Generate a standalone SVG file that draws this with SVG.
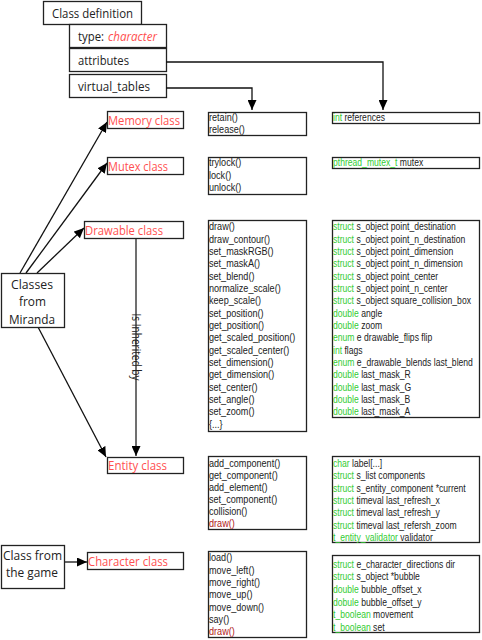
<svg xmlns="http://www.w3.org/2000/svg" width="482" height="640" viewBox="0 0 482 640">
<style>
.box{fill:#fff;stroke:#222;stroke-width:1.3}
.lbl{font-family:"Open Sans","Liberation Sans",sans-serif;font-size:13px;fill:#222}
.red{fill:#ff4f4f}
.sm{font-family:"Liberation Sans",sans-serif;font-size:10px;fill:#222}
.kw{fill:#33cc33}
.dr{fill:#b02020}
.con{fill:none;stroke:#111;stroke-width:1.3}
.inh{fill:none;stroke:#707070;stroke-width:2}
</style>
<defs>
<marker id="ah" markerUnits="userSpaceOnUse" markerWidth="11" markerHeight="9" refX="10" refY="4.5" orient="auto" viewBox="0 0 11 9">
<path d="M0,0 L10,4.5 L0,9 z" fill="#000"/>
</marker>
</defs>
<rect width="482" height="640" fill="#fff"/>

<g id="class-definition">
<rect class="box" x="43.5" y="1.5" width="98" height="23"/>
<text class="lbl" x="52" y="17.5" textLength="81" lengthAdjust="spacingAndGlyphs">Class definition</text>
</g>
<g id="type">
<rect class="box" x="69.5" y="24.5" width="97" height="23"/>
<text class="lbl" x="78" y="41" textLength="26" lengthAdjust="spacingAndGlyphs">type:</text>
<text class="lbl red" x="108" y="41" font-style="italic" textLength="49" lengthAdjust="spacingAndGlyphs">character</text>
</g>
<g id="attributes">
<rect class="box" x="69.5" y="48.5" width="97" height="23"/>
<text class="lbl" x="78" y="64.5" textLength="51" lengthAdjust="spacingAndGlyphs">attributes</text>
</g>
<g id="virtual-tables">
<rect class="box" x="69.5" y="74.5" width="97" height="23"/>
<text class="lbl" x="78" y="90.5" textLength="72" lengthAdjust="spacingAndGlyphs">virtual_tables</text>
</g>

<g id="connectors">
<path class="con" d="M166,62 H383 V110" marker-end="url(#ah)"/>
<path class="con" d="M166,88 H252 V110" marker-end="url(#ah)"/>
<path class="con" d="M20,273 L107,122" marker-end="url(#ah)"/>
<path class="con" d="M26,273 L107,163" marker-end="url(#ah)"/>
<path class="con" d="M37,273 L84,228" marker-end="url(#ah)"/>
<path class="con" d="M38,327 L106,457" marker-end="url(#ah)"/>
<path class="inh" d="M136,238 V456" marker-end="url(#ah)"/>
<path class="con" d="M64,562 H87" marker-end="url(#ah)"/>
<text class="lbl" font-size="12" transform="translate(136,347) rotate(90)" x="-33.5" y="4" textLength="67" lengthAdjust="spacingAndGlyphs">Is Inherited by</text>
</g>

<g id="memory-class">
<rect class="box" x="107.5" y="111.5" width="76" height="17"/>
<text class="lbl red" x="108" y="124.5" textLength="72" lengthAdjust="spacingAndGlyphs">Memory class</text>
</g>
<g id="memory-methods">
<rect class="box" x="208.5" y="112.5" width="98" height="23"/>
<g transform="matrix(0.91,0,0,1,18.81,0)">
<text class="sm" x="209" y="121">retain()</text>
<text class="sm" x="209" y="133">release()</text>
</g>
</g>
<g id="memory-attrs">
<rect class="box" x="332.5" y="112.5" width="147" height="11"/>
<g transform="matrix(0.86,0,0,1,46.62,0)">
<text class="sm" x="333" y="121"><tspan class="kw">int</tspan> references</text>
</g>
</g>

<g id="mutex-class">
<rect class="box" x="107.5" y="157.5" width="76" height="17"/>
<text class="lbl red" x="108" y="170.5" textLength="60" lengthAdjust="spacingAndGlyphs">Mutex class</text>
</g>
<g id="mutex-methods">
<rect class="box" x="208.5" y="157.5" width="98" height="37"/>
<g transform="matrix(0.91,0,0,1,18.81,0)">
<text class="sm" x="209" y="166.5">trylock()</text>
<text class="sm" x="209" y="179">lock()</text>
<text class="sm" x="209" y="191.5">unlock()</text>
</g>
</g>
<g id="mutex-attrs">
<rect class="box" x="332.5" y="157.5" width="147" height="11"/>
<g transform="matrix(0.86,0,0,1,46.62,0)">
<text class="sm" x="333" y="166.5"><tspan class="kw">pthread_mutex_t</tspan> mutex</text>
</g>
</g>

<g id="drawable-class">
<rect class="box" x="84.5" y="221.5" width="99" height="17"/>
<text class="lbl red" x="85" y="234.5" textLength="78" lengthAdjust="spacingAndGlyphs">Drawable class</text>
</g>
<g id="drawable-methods">
<rect class="box" x="208.5" y="220.5" width="98" height="211"/>
<g transform="matrix(0.91,0,0,1,18.81,0)">
<text class="sm" x="209" y="230.5">draw()</text>
<text class="sm" x="209" y="242.8">draw_contour()</text>
<text class="sm" x="209" y="255.2">set_maskRGB()</text>
<text class="sm" x="209" y="267.5">set_maskA()</text>
<text class="sm" x="209" y="279.8">set_blend()</text>
<text class="sm" x="209" y="292.2">normalize_scale()</text>
<text class="sm" x="209" y="304.5">keep_scale()</text>
<text class="sm" x="209" y="316.8">set_position()</text>
<text class="sm" x="209" y="329.1">get_position()</text>
<text class="sm" x="209" y="341.5">get_scaled_position()</text>
<text class="sm" x="209" y="353.8">get_scaled_center()</text>
<text class="sm" x="209" y="366.1">set_dimension()</text>
<text class="sm" x="209" y="378.5">get_dimension()</text>
<text class="sm" x="209" y="390.8">set_center()</text>
<text class="sm" x="209" y="403.1">set_angle()</text>
<text class="sm" x="209" y="415.5">set_zoom()</text>
<text class="sm" x="209" y="427.8">{...}</text>
</g>
</g>
<g id="drawable-attrs">
<rect class="box" x="332.5" y="220.5" width="147" height="197"/>
<g transform="matrix(0.86,0,0,1,46.62,0)">
<text class="sm" x="333" y="230.5"><tspan class="kw">struct</tspan> s_object point_destination</text>
<text class="sm" x="333" y="242.8"><tspan class="kw">struct</tspan> s_object point_n_destination</text>
<text class="sm" x="333" y="255.2"><tspan class="kw">struct</tspan> s_object point_dimension</text>
<text class="sm" x="333" y="267.5"><tspan class="kw">struct</tspan> s_object point_n_dimension</text>
<text class="sm" x="333" y="279.8"><tspan class="kw">struct</tspan> s_object point_center</text>
<text class="sm" x="333" y="292.2"><tspan class="kw">struct</tspan> s_object point_n_center</text>
<text class="sm" x="333" y="304.5"><tspan class="kw">struct</tspan> s_object square_collision_box</text>
<text class="sm" x="333" y="316.8"><tspan class="kw">double</tspan> angle</text>
<text class="sm" x="333" y="329.1"><tspan class="kw">double</tspan> zoom</text>
<text class="sm" x="333" y="341.5"><tspan class="kw">enum</tspan> e drawable_flips flip</text>
<text class="sm" x="333" y="353.8"><tspan class="kw">int</tspan> flags</text>
<text class="sm" x="333" y="366.1"><tspan class="kw">enum</tspan> e_drawable_blends last_blend</text>
<text class="sm" x="333" y="378.5"><tspan class="kw">double</tspan> last_mask_R</text>
<text class="sm" x="333" y="390.8"><tspan class="kw">double</tspan> last_mask_G</text>
<text class="sm" x="333" y="403.1"><tspan class="kw">double</tspan> last_mask_B</text>
<text class="sm" x="333" y="415.5"><tspan class="kw">double</tspan> last_mask_A</text>
</g>
</g>

<g id="classes-from-miranda">
<rect class="box" x="1.5" y="273.5" width="63" height="54"/>
<text class="lbl" x="11" y="289" textLength="42" lengthAdjust="spacingAndGlyphs">Classes</text>
<text class="lbl" x="19" y="306" textLength="27" lengthAdjust="spacingAndGlyphs">from</text>
<text class="lbl" x="9" y="324" textLength="46" lengthAdjust="spacingAndGlyphs">Miranda</text>
</g>

<g id="entity-class">
<rect class="box" x="107.5" y="457.5" width="76" height="16"/>
<text class="lbl red" x="108" y="470" textLength="59" lengthAdjust="spacingAndGlyphs">Entity class</text>
</g>
<g id="entity-methods">
<rect class="box" x="208.5" y="456.5" width="98" height="73"/>
<g transform="matrix(0.91,0,0,1,18.81,0)">
<text class="sm" x="209" y="467.5">add_component()</text>
<text class="sm" x="209" y="479.5">get_component()</text>
<text class="sm" x="209" y="491.5">add_element()</text>
<text class="sm" x="209" y="503.5">set_component()</text>
<text class="sm" x="209" y="515.5">collision()</text>
<text class="sm dr" x="209" y="527.5">draw()</text>
</g>
</g>
<g id="entity-attrs">
<rect class="box" x="332.5" y="456.5" width="147" height="86"/>
<g transform="matrix(0.86,0,0,1,46.62,0)">
<text class="sm" x="333" y="467"><tspan class="kw">char</tspan> label[...]</text>
<text class="sm" x="333" y="479.3"><tspan class="kw">struct</tspan> s_list components</text>
<text class="sm" x="333" y="491.6"><tspan class="kw">struct</tspan> s_entity_component *current</text>
<text class="sm" x="333" y="504"><tspan class="kw">struct</tspan> timeval last_refresh_x</text>
<text class="sm" x="333" y="516.3"><tspan class="kw">struct</tspan> timeval last_refresh_y</text>
<text class="sm" x="333" y="528.6"><tspan class="kw">struct</tspan> timeval last_refersh_zoom</text>
<text class="sm" x="333" y="541"><tspan class="kw">t_entity_validator</tspan> validator</text>
</g>
</g>

<g id="class-from-game">
<rect class="box" x="1.5" y="545.5" width="63" height="43"/>
<text class="lbl" x="3" y="560" textLength="59" lengthAdjust="spacingAndGlyphs">Class from</text>
<text class="lbl" x="6" y="577" textLength="52" lengthAdjust="spacingAndGlyphs">the game</text>
</g>

<g id="character-class">
<rect class="box" x="87.5" y="552.5" width="96" height="17"/>
<text class="lbl red" x="88" y="565.5" textLength="80" lengthAdjust="spacingAndGlyphs">Character class</text>
</g>
<g id="character-methods">
<rect class="box" x="208.5" y="551.5" width="98" height="86"/>
<g transform="matrix(0.91,0,0,1,18.81,0)">
<text class="sm" x="209" y="561.5">load()</text>
<text class="sm" x="209" y="573.8">move_left()</text>
<text class="sm" x="209" y="586.2">move_right()</text>
<text class="sm" x="209" y="598.5">move_up()</text>
<text class="sm" x="209" y="610.8">move_down()</text>
<text class="sm" x="209" y="623.2">say()</text>
<text class="sm dr" x="209" y="635.5">draw()</text>
</g>
</g>
<g id="character-attrs">
<rect class="box" x="332.5" y="555.5" width="147" height="77"/>
<g transform="matrix(0.86,0,0,1,46.62,0)">
<text class="sm" x="333" y="567.8"><tspan class="kw">struct</tspan> e_character_directions dir</text>
<text class="sm" x="333" y="580.4"><tspan class="kw">struct</tspan> s_object *bubble</text>
<text class="sm" x="333" y="593"><tspan class="kw">double</tspan> bubble_offset_x</text>
<text class="sm" x="333" y="605.6"><tspan class="kw">dobule</tspan> bubble_offset_y</text>
<text class="sm" x="333" y="618.2"><tspan class="kw">t_boolean</tspan> movement</text>
<text class="sm" x="333" y="630.8"><tspan class="kw">t_boolean</tspan> set</text>
</g>
</g>
</svg>
